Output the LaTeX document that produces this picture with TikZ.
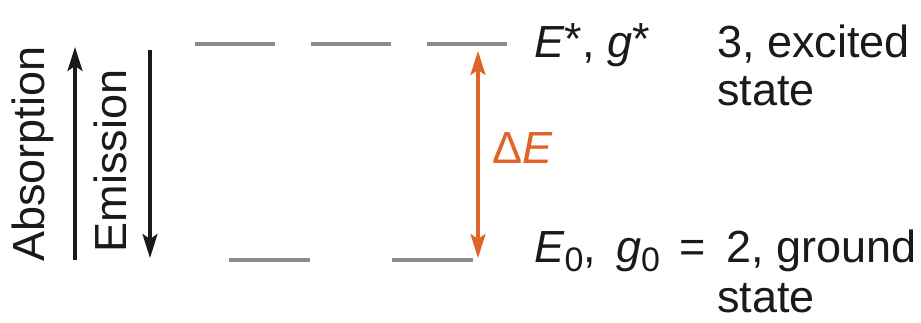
\documentclass[tikz,border=0pt]{standalone}
\usepackage{fontspec}
\setmainfont{Liberation Sans}
\usetikzlibrary{arrows.meta}
\definecolor{ink}{HTML}{1A1A1A}
\definecolor{lvgray}{HTML}{8C8C8C}
\definecolor{corange}{HTML}{E0632A}
\newcommand\lowidx[1]{\raisebox{-0.2em}{\fontsize{34}{36}\selectfont #1}}
\newcommand\highstar{\raisebox{0.08em}{*}}
\tikzset{
  >={Stealth[length=24pt,width=15pt,inset=5pt]},
  every picture/.style={font=\fontsize{45}{50}\selectfont},
  lvl/.style={draw=lvgray,line width=3.5pt},
  arr/.style={-{Stealth[length=24pt,width=15pt,inset=5pt]},draw=ink,line width=3.2pt},
  oarr/.style={<->,draw=corange,line width=3.2pt},
  lab/.style={text=ink,inner sep=0pt,anchor=base west},
}
\begin{document}
\begin{tikzpicture}[x=1pt,y=1pt]
  \useasboundingbox (0,0) rectangle (921,322);
  % energy levels
  \foreach \x in {195,311,427} \draw[lvl] (\x,278) -- ++(80,0);
  \foreach \x in {229,392} \draw[lvl] (\x,62) -- ++(81,0);
  % absorption / emission
  \coordinate (ab0) at (75,62);
  \coordinate (ab1) at (75,275);
  \coordinate (em0) at (150,272);
  \coordinate (em1) at (150,64);
  \draw[arr] (ab0) -- (ab1);
  \draw[arr] (em0) -- (em1);
  \node[text=ink,inner sep=0pt,rotate=90,anchor=base] (abs) at (44,168) {Absorption};
  \node[text=ink,inner sep=0pt,rotate=90,anchor=base] (emi) at (126,161) {Emission};
  % gap
  \coordinate (de0) at (478,64);
  \coordinate (de1) at (478,271);
  \draw[oarr] (de0) -- (de1);
  \node[text=corange,inner sep=0pt,anchor=west] (dE) at (492,174) {Δ\textit{E}};
  % labels
  \node[lab] (es) at (534,264) {\textit{E}\highstar, \textit{g}\highstar};
  \node[lab] (ex) at (717,264) {3, excited};
  \node[lab] (exs) at (717,216) {state};
  \node[lab] (gs) at (534,60) {\textit{E}\lowidx{0},\, \textit{g}\lowidx{0}\, =\, 2, ground};
  \node[lab] (gss) at (717,10) {state};
\end{tikzpicture}
\end{document}
